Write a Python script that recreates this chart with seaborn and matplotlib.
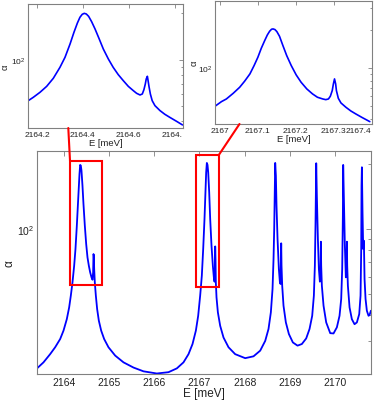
import numpy as np
import pandas as pd
import matplotlib
matplotlib.use("Agg")
import matplotlib.pyplot as plt
import seaborn as sns
from matplotlib.patches import Rectangle
from matplotlib.lines import Line2D
from matplotlib.ticker import LogLocator, NullFormatter, FixedLocator, FormatStrFormatter
from matplotlib.transforms import Bbox, TransformedBbox

# ---------------- data ----------------
main_E = [2163.414, 2163.547, 2163.694, 2163.805, 2163.916, 2163.990, 2164.063, 2164.115,
          2164.152, 2164.189, 2164.226, 2164.255, 2164.285, 2164.307, 2164.329, 2164.344,
          2164.359, 2164.373, 2164.388, 2164.410, 2164.432, 2164.462, 2164.492, 2164.521,
          2164.551, 2164.580, 2164.610, 2164.632, 2164.646, 2164.654, 2164.661, 2164.669,
          2164.683, 2164.706, 2164.735, 2164.772, 2164.824, 2164.890, 2164.986, 2165.134,
          2165.318, 2165.539, 2165.761, 2166.056, 2166.314, 2166.499, 2166.646, 2166.757,
          2166.846, 2166.920, 2166.971, 2167.015, 2167.052, 2167.082, 2167.111, 2167.134,
          2167.148, 2167.163, 2167.178, 2167.193, 2167.215, 2167.237, 2167.266, 2167.296,
          2167.318, 2167.333, 2167.340, 2167.348, 2167.355, 2167.362, 2167.377, 2167.407,
          2167.458, 2167.532, 2167.643, 2167.790, 2168.012, 2168.196, 2168.344, 2168.455,
          2168.528, 2168.580, 2168.617, 2168.639, 2168.654, 2168.669, 2168.676, 2168.691,
          2168.705, 2168.728, 2168.757, 2168.779, 2168.794, 2168.801, 2168.809, 2168.816,
          2168.831, 2168.860, 2168.912, 2168.979, 2169.067, 2169.170, 2169.266, 2169.362,
          2169.436, 2169.495, 2169.532, 2169.554, 2169.569, 2169.584, 2169.598, 2169.621,
          2169.643, 2169.665, 2169.680, 2169.687, 2169.694, 2169.709, 2169.746, 2169.805,
          2169.894, 2169.967, 2170.041, 2170.100, 2170.137, 2170.159, 2170.174, 2170.181,
          2170.196, 2170.218, 2170.240, 2170.255, 2170.263, 2170.270, 2170.285, 2170.322,
          2170.373, 2170.432, 2170.484, 2170.536, 2170.565, 2170.580, 2170.587, 2170.595,
          2170.609, 2170.624, 2170.639, 2170.654, 2170.676, 2170.705, 2170.742, 2170.764,
          2170.794]
main_alpha = [22.6, 24.0, 26.2, 28.2, 30.8, 33.7, 38.1, 43.2,
              49.0, 56.5, 67.5, 80.7, 103.6, 128.4, 156.2, 180.3,
              198.5, 197.1, 186.8, 159.1, 130.7, 103.6, 85.2, 73.8,
              67.5, 62.9, 59.6, 58.1, 62.9, 76.5, 75.2, 65.2,
              56.5, 49.0, 42.4, 37.5, 33.7, 30.8, 28.2, 25.8,
              24.0, 22.7, 21.8, 21.3, 21.6, 22.5, 24.0, 26.2,
              29.2, 33.7, 39.5, 49.0, 60.7, 80.7, 111.3, 153.5,
              183.4, 202.8, 198.5, 183.4, 148.1, 111.3, 83.7, 67.5,
              59.6, 56.9, 62.9, 83.0, 72.5, 56.5, 48.1, 41.0,
              35.5, 31.3, 28.2, 26.2, 25.1, 25.6, 27.2, 30.2,
              34.3, 41.0, 52.6, 72.5, 100.0, 164.9, 202.8, 177.0,
              128.4, 89.8, 65.2, 56.9, 55.5, 67.5, 85.8, 67.5,
              54.5, 44.0, 36.8, 32.5, 29.7, 28.7, 29.2, 31.0,
              34.3, 39.5, 49.0, 67.5, 107.4, 202.1, 142.9, 89.8,
              65.2, 56.9, 60.7, 87.3, 67.5, 54.5, 44.0, 36.8,
              32.8, 32.7, 34.9, 39.5, 47.3, 65.2, 115.4, 198.5,
              137.9, 83.7, 59.6, 62.9, 87.3, 67.5, 54.5, 43.2,
              38.1, 36.1, 36.8, 40.2, 49.0, 80.7, 159.1, 193.6,
              119.5, 80.7, 88.2, 58.5, 47.3, 41.7, 39.5, 39.8,
              41.7]

in1_E = [2164.162, 2164.184, 2164.213, 2164.242, 2164.271, 2164.300, 2164.322, 2164.344,
         2164.361, 2164.376, 2164.387, 2164.397, 2164.406, 2164.415, 2164.425, 2164.438,
         2164.453, 2164.470, 2164.489, 2164.511, 2164.532, 2164.554, 2164.576, 2164.598,
         2164.620, 2164.634, 2164.649, 2164.659, 2164.666, 2164.672, 2164.676, 2164.681,
         2164.683, 2164.688, 2164.694, 2164.702, 2164.714, 2164.736, 2164.757, 2164.779,
         2164.808, 2164.834]
in1_alpha = [54.2, 57.0, 61.4, 67.1, 75.7, 89.2, 103.6, 126.5,
             150.6, 173.1, 188.4, 197.1, 200.0, 198.0, 191.2, 176.6,
             158.2, 137.6, 117.3, 101.0, 89.2, 80.0, 73.1, 67.1,
             62.9, 60.5, 59.0, 59.9, 63.9, 69.5, 74.9, 78.0,
             74.9, 67.1, 59.9, 54.2, 50.3, 46.7, 44.2, 42.2,
             39.8, 37.7]

in2_E = [2166.987, 2167.004, 2167.017, 2167.035, 2167.052, 2167.065, 2167.079, 2167.090,
         2167.100, 2167.109, 2167.118, 2167.125, 2167.131, 2167.136, 2167.140, 2167.145,
         2167.150, 2167.157, 2167.166, 2167.176, 2167.188, 2167.201, 2167.214, 2167.229,
         2167.244, 2167.257, 2167.271, 2167.279, 2167.286, 2167.291, 2167.296, 2167.299,
         2167.302, 2167.305, 2167.307, 2167.312, 2167.319, 2167.332, 2167.345, 2167.358,
         2167.375, 2167.395]
in2_alpha = [50.2, 54.6, 57.3, 63.5, 70.8, 79.0, 90.2, 104.9,
             122.0, 143.6, 165.1, 182.9, 195.5, 202.7, 203.9, 201.5,
             194.3, 178.5, 150.7, 125.7, 104.9, 88.6, 77.5, 68.7,
             62.8, 59.1, 57.3, 56.6, 57.3, 60.2, 66.7, 75.2,
             82.4, 75.2, 66.7, 58.0, 53.3, 49.3, 46.1, 43.7,
             40.9, 38.0]

# zoom boxes on main axes (E range, alpha range)
box1_E = [2164.137, 2164.852]
box1_alpha = [55.1, 207.8]
box2_E = [2166.933, 2167.436]
box2_alpha = [53.9, 221.6]

main_xticks = [2164, 2165, 2166, 2167, 2168, 2169, 2170]
in1_xticks = [2164.2, 2164.4, 2164.6, 2164.8]
in2_xticks = [2167.0, 2167.1, 2167.2, 2167.3, 2167.4]

# ---------------- style ----------------
sns.set_theme(style="white")
plt.rcParams['font.family'] = ['Liberation Sans', 'DejaVu Sans']
plt.rcParams['mathtext.default'] = 'regular'

W, H = 374, 402
fig = plt.figure(figsize=(W / 100, H / 100), dpi=100)
fig.patch.set_facecolor('white')

SPINE = '#808080'
TXT = '#222222'


def fr(x0, y0, x1, y1):
    return [x0 / W, 1 - y1 / H, (x1 - x0) / W, (y1 - y0) / H]


def style_axes(ax, tick_fs, major_len, minor_len, pad):
    ax.set_yscale('log')
    for s in ax.spines.values():
        s.set_color(SPINE)
        s.set_linewidth(0.8)
    ax.tick_params(which='both', direction='in', top=True, right=True,
                   color=SPINE, labelcolor=TXT, labelsize=tick_fs, width=0.6, pad=pad)
    ax.tick_params(which='major', length=major_len)
    ax.tick_params(which='minor', length=minor_len)
    ax.yaxis.set_major_locator(LogLocator(base=10))
    ax.yaxis.set_minor_locator(LogLocator(base=10, subs=np.arange(2, 10)))
    ax.yaxis.set_minor_formatter(NullFormatter())
    ax.xaxis.set_minor_locator(FixedLocator([]))
    ax.set_facecolor('white')


# ---------------- main axes ----------------
ax = fig.add_axes(fr(37.3, 152.3, 370.7, 374.5))
df_main = pd.DataFrame({'E': main_E, 'alpha': main_alpha})
sns.lineplot(data=df_main, x='E', y='alpha', ax=ax, color='#0000ff', lw=1.3,
             estimator=None, sort=False)
style_axes(ax, 7.5, 3.5, 2.0, 2.5)
ax.set_xlim(2163.41, 2170.79)
ax.set_ylim(21.3, 229.7)
ax.set_xticks(main_xticks)
ax.xaxis.set_major_formatter(FormatStrFormatter('%g'))
ax.set_xlabel('E [meV]', fontsize=8.5, color=TXT, labelpad=0)
ax.set_ylabel('α', fontsize=8.5, color=TXT)
ax.yaxis.set_label_coords(-0.064, 0.5)

for bE, ba in [(box1_E, box1_alpha), (box2_E, box2_alpha)]:
    ax.add_patch(Rectangle((bE[0], ba[0]), bE[1] - bE[0], ba[1] - ba[0],
                           fill=False, edgecolor='#ff0000', lw=1.5, zorder=5))

# ---------------- inset 1 ----------------
ax1 = fig.add_axes(fr(28.3, 5, 182.7, 129))
df1 = pd.DataFrame({'E': in1_E, 'alpha': in1_alpha})
sns.lineplot(data=df1, x='E', y='alpha', ax=ax1, color='#0000ff', lw=1.2,
             estimator=None, sort=False)
style_axes(ax1, 6.0, 3.0, 1.6, 2.0)
ax1.set_xlim(2164.162, 2164.835)
ax1.set_ylim(36.0, 230.0)
ax1.set_xticks(in1_xticks)
ax1.xaxis.set_major_formatter(FormatStrFormatter('%g'))
ax1.set_xlabel('E [meV]', fontsize=6.8, color=TXT, labelpad=0)
ax1.set_ylabel('α', fontsize=6.8, color=TXT)
ax1.yaxis.set_label_coords(-0.119, 0.5)

# ---------------- inset 2 ----------------
ax2 = fig.add_axes(fr(215, 1.7, 371.7, 125))
df2 = pd.DataFrame({'E': in2_E, 'alpha': in2_alpha})
sns.lineplot(data=df2, x='E', y='alpha', ax=ax2, color='#0000ff', lw=1.2,
             estimator=None, sort=False)
style_axes(ax2, 6.0, 3.0, 1.6, 2.0)
ax2.set_xlim(2166.987, 2167.4)
ax2.set_ylim(36.4, 340.0)
ax2.set_xticks(in2_xticks)
ax2.xaxis.set_major_formatter(FormatStrFormatter('%g'))
ax2.set_xlabel('E [meV]', fontsize=6.8, color=TXT, labelpad=0)
ax2.set_ylabel('α', fontsize=6.8, color=TXT)
ax2.yaxis.set_label_coords(-0.102, 0.5)

for a in (ax, ax1, ax2):
    if a.get_legend() is not None:
        a.get_legend().remove()

# last tick label of inset 2 right-aligned, last of inset 1 clipped (as in reference)
t2 = ax2.xaxis.get_major_ticks()[-1]
t2.label1.set_horizontalalignment('right')
t1 = ax1.xaxis.get_major_ticks()[-1]
t1.label1.set_clip_box(TransformedBbox(Bbox.from_extents(0, 0, 182 / W, 1), fig.transFigure))
t1.label1.set_clip_on(True)

# connector lines from boxes to insets (figure pixel coords)
for (xa, ya), (xb, yb) in [((70, 161.7), (68.3, 129)), ((219, 155.7), (239.5, 125))]:
    fig.add_artist(Line2D([xa / W, xb / W], [1 - ya / H, 1 - yb / H],
                          transform=fig.transFigure, color='#ff0000', lw=1.5, zorder=10))

fig.savefig('out.png', dpi=100, facecolor='white')
